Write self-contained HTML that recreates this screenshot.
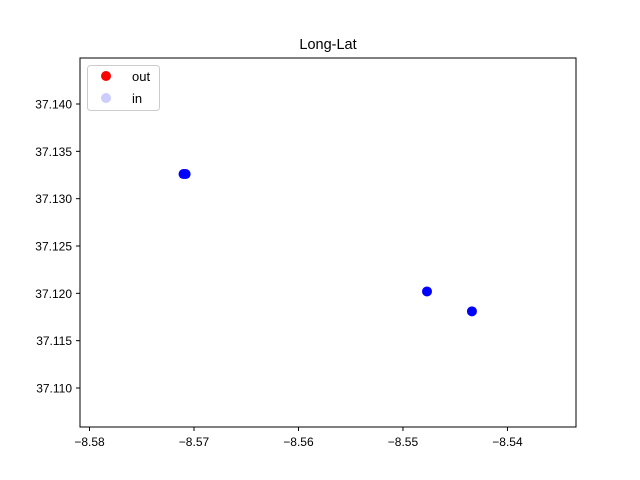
<!DOCTYPE html>
<html><head><meta charset="utf-8"><style>
body{margin:0;background:#fff}
svg{display:block;font-family:"Liberation Sans","DejaVu Sans",sans-serif}
</style></head><body>
<svg id="chart" width="640" height="480">
<rect width="640" height="480" fill="#fff"/>
<text x="328" y="49" text-anchor="middle" font-size="14.5">Long-Lat</text>
<g id="ticks"></g>
<g id="points"></g>
<rect x="80" y="58" width="496" height="369" fill="none" stroke="#000" stroke-width="1"/>
<g>
<rect x="87.5" y="65.5" width="72" height="45" rx="3" fill="#fff" stroke="#ccc"/>
<circle cx="106" cy="76" r="5" fill="red"/>
<text x="132" y="81" font-size="13">out</text>
<circle cx="106" cy="98" r="5" fill="blue" fill-opacity="0.2"/>
<text x="132" y="103" font-size="13">in</text>
</g>
</svg>
<script>
const lonValues=[-8.5710,-8.5708,-8.5477,-8.5434];
const latValues=[37.1326,37.1326,37.1202,37.1181];
const xTicks=[-8.58,-8.57,-8.56,-8.55,-8.54];
const yTicks=[37.110,37.115,37.120,37.125,37.130,37.135,37.140];
const ns="http://www.w3.org/2000/svg";
const x0=-8.58091,x1=-8.53344,y0=37.10588,y1=37.14486;
function sx(v){return 80+(v-x0)/(x1-x0)*496;}
function sy(v){return 427-(v-y0)/(y1-y0)*369;}
const tg=document.getElementById('ticks');
function mk(t,a){const e=document.createElementNS(ns,t);for(const k in a)e.setAttribute(k,a[k]);return e;}
xTicks.forEach(v=>{const x=sx(v);
const l=mk('line',{x1:x,x2:x,y1:427,y2:431,stroke:'#000'});


tg.appendChild(l);
const t=mk('text',{x:x,y:446,'text-anchor':'middle','font-size':'12'});


t.textContent=v.toFixed(2).replace('-','\u2212');tg.appendChild(t);});
yTicks.forEach(v=>{const y=sy(v);
const l=mk('line',{x1:76,x2:80,y1:y,y2:y,stroke:'#000'});


tg.appendChild(l);
const t=mk('text',{x:72,y:y+4.5,'text-anchor':'end','font-size':'12'});


t.textContent=v.toFixed(3);tg.appendChild(t);});
const pg=document.getElementById('points');
lonValues.forEach((v,i)=>{
const c=mk('circle',{cx:sx(v),cy:sy(latValues[i]),r:5,fill:'blue'});


pg.appendChild(c);});
</script>
</body></html>
